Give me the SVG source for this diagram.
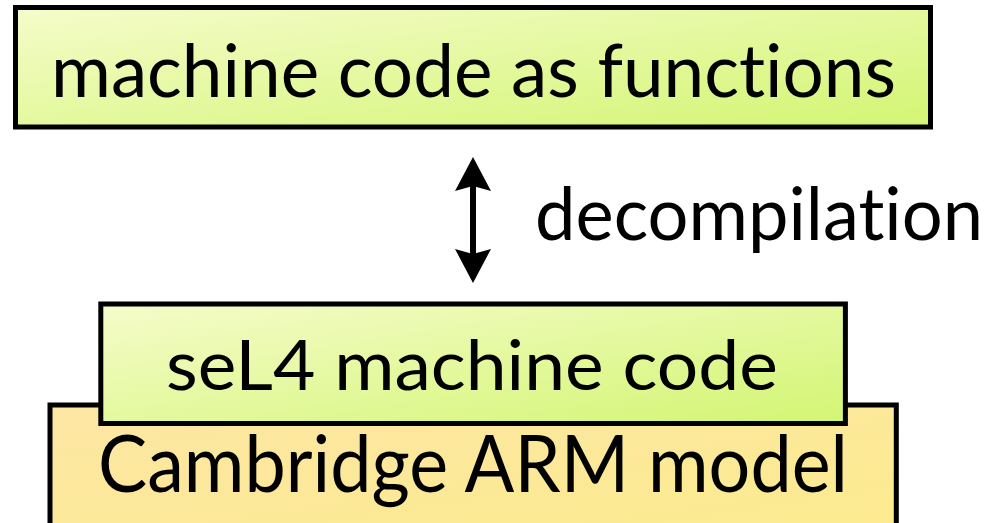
<svg xmlns="http://www.w3.org/2000/svg" width="995" height="523" viewBox="0 0 995 523">
  <style>
    .box { stroke: #000; stroke-width: 5; }
    .green { fill: url(#gGreen); }
    .orange { fill: url(#gOrange); }
    .lbl { font-family: "Lato", "Open Sans", "Liberation Sans", sans-serif; fill: #000; font-variant-ligatures: none; font-feature-settings: "liga" 0, "clig" 0, "dlig" 0; }
  </style>
  <defs>
    <linearGradient id="gGreen" x1="0" y1="0" x2="1" y2="1">
      <stop offset="0" stop-color="#f5fcca"/>
      <stop offset="1" stop-color="#d3f573"/>
    </linearGradient>
    <linearGradient id="gOrange" x1="0" y1="0" x2="1" y2="1">
      <stop offset="0" stop-color="#fde6a4"/>
      <stop offset="1" stop-color="#fbeb8e"/>
    </linearGradient>
    <marker id="head" viewBox="0 0 34 36" refX="29" refY="18" markerWidth="34" markerHeight="36" markerUnits="userSpaceOnUse" orient="auto-start-reverse">
      <path d="M0,0 L34,18 L0,36 L5,18 z" fill="#000"/>
    </marker>
  </defs>

  <g id="node-functions">
    <rect class="box green" x="15.5" y="7.5" width="915" height="119.5"/>
    <text class="lbl" x="51" y="97" font-size="74" textLength="845" lengthAdjust="spacingAndGlyphs">machine code as functions</text>
  </g>

  <g id="node-arm">
    <rect class="box orange" x="50" y="405" width="846.3" height="130"/>
    <text class="lbl" x="98" y="492" font-size="80" textLength="750" lengthAdjust="spacingAndGlyphs">Cambridge ARM model</text>
  </g>

  <g id="node-sel4">
    <rect class="box green" x="100.8" y="304" width="744.6" height="119.5"/>
    <text class="lbl" x="166" y="390" font-size="70" textLength="612" lengthAdjust="spacingAndGlyphs">seL4 machine code</text>
  </g>

  <g id="connectors">
    <line x1="473" y1="162" x2="473" y2="278" stroke="#000" stroke-width="6" marker-start="url(#head)" marker-end="url(#head)"/>
    <text class="lbl" x="535" y="240" font-size="74" textLength="448" lengthAdjust="spacingAndGlyphs">decompilation</text>
  </g>
</svg>
